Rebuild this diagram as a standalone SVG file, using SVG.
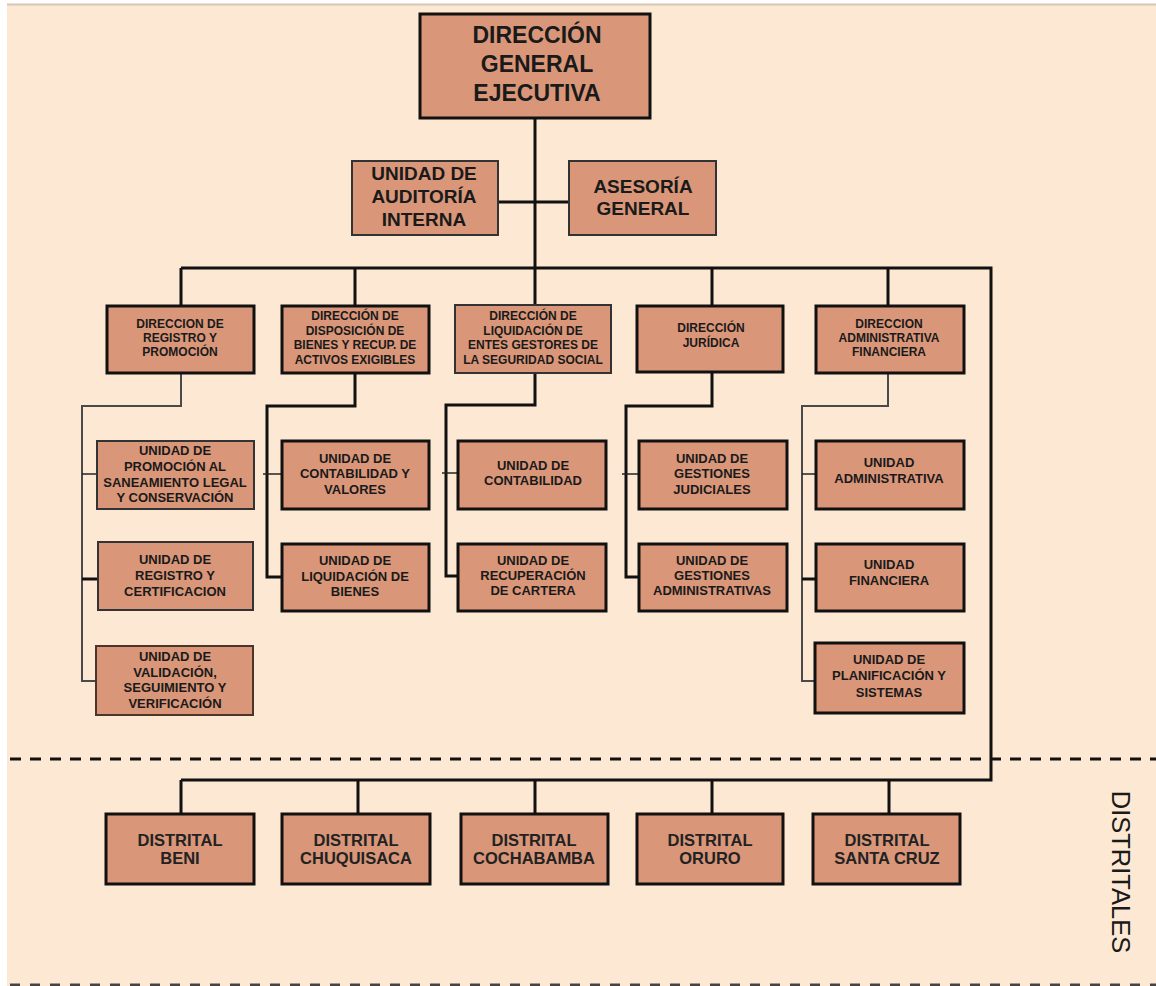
<svg xmlns="http://www.w3.org/2000/svg" width="1156" height="986" viewBox="0 0 1156 986">
<style>
.bg{fill:#FDE9D3}
.n{fill:#D99679;stroke:#111;stroke-width:3}
.nt{fill:#D99679;stroke:#333;stroke-width:2}
.t{font-family:"Liberation Sans",Arial,sans-serif;font-weight:bold;fill:#1a1a1a;text-anchor:middle}
.t23{font-size:23px}
.t19{font-size:19px}
.t13{font-size:13px}
.t12{font-size:12px}
.d{font-family:"Liberation Sans",Arial,sans-serif;font-size:16.5px;font-weight:bold;fill:#222;text-anchor:middle}
.c{fill:none;stroke:#111;stroke-width:3}
.cg{fill:none;stroke:#4a4a4a;stroke-width:2}
.ct{fill:none;stroke:#222;stroke-width:1.5}
</style>
<rect x="0" y="0" width="1156" height="986" fill="#ffffff"/>
<rect class="bg" x="7" y="5" width="1149" height="981"/>
<line x1="7" y1="4.5" x2="1156" y2="4.5" stroke="#d6c6b4" stroke-width="2"/>
<line x1="10" y1="759" x2="1156" y2="759" stroke="#111" stroke-width="3" stroke-dasharray="11 9"/>
<line x1="10" y1="985" x2="1156" y2="985" stroke="#444" stroke-width="3" stroke-dasharray="10 10"/>

<g id="connectors">
<path class="c" d="M535 118 V268"/>
<path class="c" d="M498 202 H569"/>
<path class="c" d="M181 268 H991 V780 H181"/>
<path class="c" d="M181 268 V306 M355 268 V306 M535 268 V305 M712 268 V306 M888 268 V306"/>
<path class="c" d="M181 780 V814 M358 780 V814 M535 780 V814 M712 780 V814 M889 780 V814"/>
<path class="cg" d="M181 373 V406 H82 V681 H96"/>
<path class="ct" d="M82 474 H97"/>
<path class="c" d="M82 579 H98"/>
<path class="c" d="M355 373 V406 H267 V577 H282"/>
<path class="ct" d="M263 474 H282"/>
<path class="c" d="M535 373 V405 H446 V576 H458"/>
<path class="ct" d="M442 473 H458"/>
<path class="c" d="M712 372 V406 H626 V577 H639"/>
<path class="ct" d="M622 474 H639"/>
<path class="cg" d="M888 373 V406 H802 V681 H815"/>
<path class="ct" d="M802 474 H816"/>
<path class="c" d="M802 579 H816"/>
</g>

<g id="dge">
<rect class="n" x="420" y="14" width="230" height="104"/>
<text class="t t23" x="537" y="43">DIRECCIÓN</text>
<text class="t t23" x="537" y="72">GENERAL</text>
<text class="t t23" x="537" y="101">EJECUTIVA</text>
</g>
<g id="auditoria">
<rect class="nt" x="352" y="161" width="146" height="74"/>
<text class="t t19" x="424" y="180">UNIDAD DE</text>
<text class="t t19" x="424" y="203">AUDITORÍA</text>
<text class="t t19" x="424" y="226">INTERNA</text>
</g>
<g id="asesoria">
<rect class="nt" x="569" y="161" width="147" height="74"/>
<text class="t t19" x="643" y="193">ASESORÍA</text>
<text class="t t19" x="643" y="215">GENERAL</text>
</g>

<g id="dir-registro">
<rect class="n" x="107" y="306" width="147" height="67"/>
<text class="t t12" x="180" y="328">DIRECCION DE</text>
<text class="t t12" x="180" y="342">REGISTRO Y</text>
<text class="t t12" x="180" y="356">PROMOCIÓN</text>
</g>
<g id="dir-disposicion">
<rect class="n" x="282" y="306" width="147" height="67"/>
<text class="t t12" x="355" y="320">DIRECCIÓN DE</text>
<text class="t t12" x="355" y="335">DISPOSICIÓN DE</text>
<text class="t t12" x="355" y="349">BIENES Y RECUP. DE</text>
<text class="t t12" x="355" y="364">ACTIVOS EXIGIBLES</text>
</g>
<g id="dir-liquidacion">
<rect class="nt" x="455" y="305" width="156" height="68"/>
<text class="t t12" x="533" y="320">DIRECCIÓN DE</text>
<text class="t t12" x="533" y="335">LIQUIDACIÓN DE</text>
<text class="t t12" x="533" y="349">ENTES GESTORES DE</text>
<text class="t t12" x="533" y="364">LA SEGURIDAD SOCIAL</text>
</g>
<g id="dir-juridica">
<rect class="n" x="637" y="306" width="146" height="66"/>
<text class="t t12" x="711" y="332">DIRECCIÓN</text>
<text class="t t12" x="711" y="347">JURÍDICA</text>
</g>
<g id="dir-administrativa">
<rect class="n" x="816" y="306" width="148" height="67"/>
<text class="t t12" x="889" y="328">DIRECCION</text>
<text class="t t12" x="889" y="342">ADMINISTRATIVA</text>
<text class="t t12" x="889" y="356">FINANCIERA</text>
</g>

<g id="u-promocion">
<rect class="nt" x="97" y="441" width="157" height="68"/>
<text class="t t13" x="175" y="455">UNIDAD DE</text>
<text class="t t13" x="175" y="471">PROMOCIÓN AL</text>
<text class="t t13" x="175" y="487">SANEAMIENTO LEGAL</text>
<text class="t t13" x="175" y="502">Y CONSERVACIÓN</text>
</g>
<g id="u-registro">
<rect class="nt" x="98" y="542" width="155" height="68"/>
<text class="t t13" x="175" y="564">UNIDAD DE</text>
<text class="t t13" x="175" y="580">REGISTRO Y</text>
<text class="t t13" x="175" y="596">CERTIFICACION</text>
</g>
<g id="u-validacion">
<rect class="nt" x="96" y="646" width="157" height="69" style="stroke:#4a3528"/>
<text class="t t13" x="175" y="661">UNIDAD DE</text>
<text class="t t13" x="175" y="677">VALIDACIÓN,</text>
<text class="t t13" x="175" y="692">SEGUIMIENTO Y</text>
<text class="t t13" x="175" y="708">VERIFICACIÓN</text>
</g>

<g id="u-contabilidad-valores">
<rect class="n" x="282" y="441" width="147" height="68"/>
<text class="t t13" x="355" y="463">UNIDAD DE</text>
<text class="t t13" x="355" y="478">CONTABILIDAD Y</text>
<text class="t t13" x="355" y="494">VALORES</text>
</g>
<g id="u-liquidacion-bienes">
<rect class="n" x="282" y="544" width="147" height="67"/>
<text class="t t13" x="355" y="565">UNIDAD DE</text>
<text class="t t13" x="355" y="581">LIQUIDACIÓN DE</text>
<text class="t t13" x="355" y="596">BIENES</text>
</g>

<g id="u-contabilidad">
<rect class="n" x="458" y="441" width="148" height="68"/>
<text class="t t13" x="533" y="470">UNIDAD DE</text>
<text class="t t13" x="533" y="485">CONTABILIDAD</text>
</g>
<g id="u-recuperacion">
<rect class="n" x="458" y="544" width="148" height="67"/>
<text class="t t13" x="533" y="565">UNIDAD DE</text>
<text class="t t13" x="533" y="580">RECUPERACIÓN</text>
<text class="t t13" x="533" y="595">DE CARTERA</text>
</g>

<g id="u-judiciales">
<rect class="n" x="639" y="441" width="148" height="68"/>
<text class="t t13" x="712" y="463">UNIDAD DE</text>
<text class="t t13" x="712" y="478">GESTIONES</text>
<text class="t t13" x="712" y="494">JUDICIALES</text>
</g>
<g id="u-gest-admin">
<rect class="n" x="639" y="544" width="148" height="67"/>
<text class="t t13" x="712" y="565">UNIDAD DE</text>
<text class="t t13" x="712" y="580">GESTIONES</text>
<text class="t t13" x="712" y="595">ADMINISTRATIVAS</text>
</g>

<g id="u-administrativa">
<rect class="n" x="816" y="441" width="148" height="68"/>
<text class="t t13" x="889" y="467">UNIDAD</text>
<text class="t t13" x="889" y="483">ADMINISTRATIVA</text>
</g>
<g id="u-financiera">
<rect class="n" x="816" y="544" width="148" height="67"/>
<text class="t t13" x="889" y="569">UNIDAD</text>
<text class="t t13" x="889" y="585">FINANCIERA</text>
</g>
<g id="u-planificacion">
<rect class="n" x="815" y="643" width="149" height="70"/>
<text class="t t13" x="889" y="664">UNIDAD DE</text>
<text class="t t13" x="889" y="680">PLANIFICACIÓN Y</text>
<text class="t t13" x="889" y="697">SISTEMAS</text>
</g>

<g id="d-beni">
<rect class="n" x="106" y="814" width="148" height="70"/>
<text class="d" x="180" y="846">DISTRITAL</text>
<text class="d" x="180" y="864">BENI</text>
</g>
<g id="d-chuquisaca">
<rect class="n" x="282" y="814" width="148" height="70"/>
<text class="d" x="356" y="846">DISTRITAL</text>
<text class="d" x="356" y="864">CHUQUISACA</text>
</g>
<g id="d-cochabamba">
<rect class="n" x="461" y="814" width="147" height="70"/>
<text class="d" x="534" y="846">DISTRITAL</text>
<text class="d" x="534" y="864">COCHABAMBA</text>
</g>
<g id="d-oruro">
<rect class="n" x="637" y="814" width="146" height="70"/>
<text class="d" x="710" y="846">DISTRITAL</text>
<text class="d" x="710" y="864">ORURO</text>
</g>
<g id="d-santacruz">
<rect class="n" x="813" y="814" width="147" height="70"/>
<text class="d" x="887" y="846">DISTRITAL</text>
<text class="d" x="887" y="864">SANTA CRUZ</text>
</g>

<text x="0" y="0" transform="translate(1112 872) rotate(90)" style="font-family:'Liberation Sans',Arial,sans-serif;font-size:25.5px;fill:#1a1a1a;text-anchor:middle">DISTRITALES</text>
</svg>
